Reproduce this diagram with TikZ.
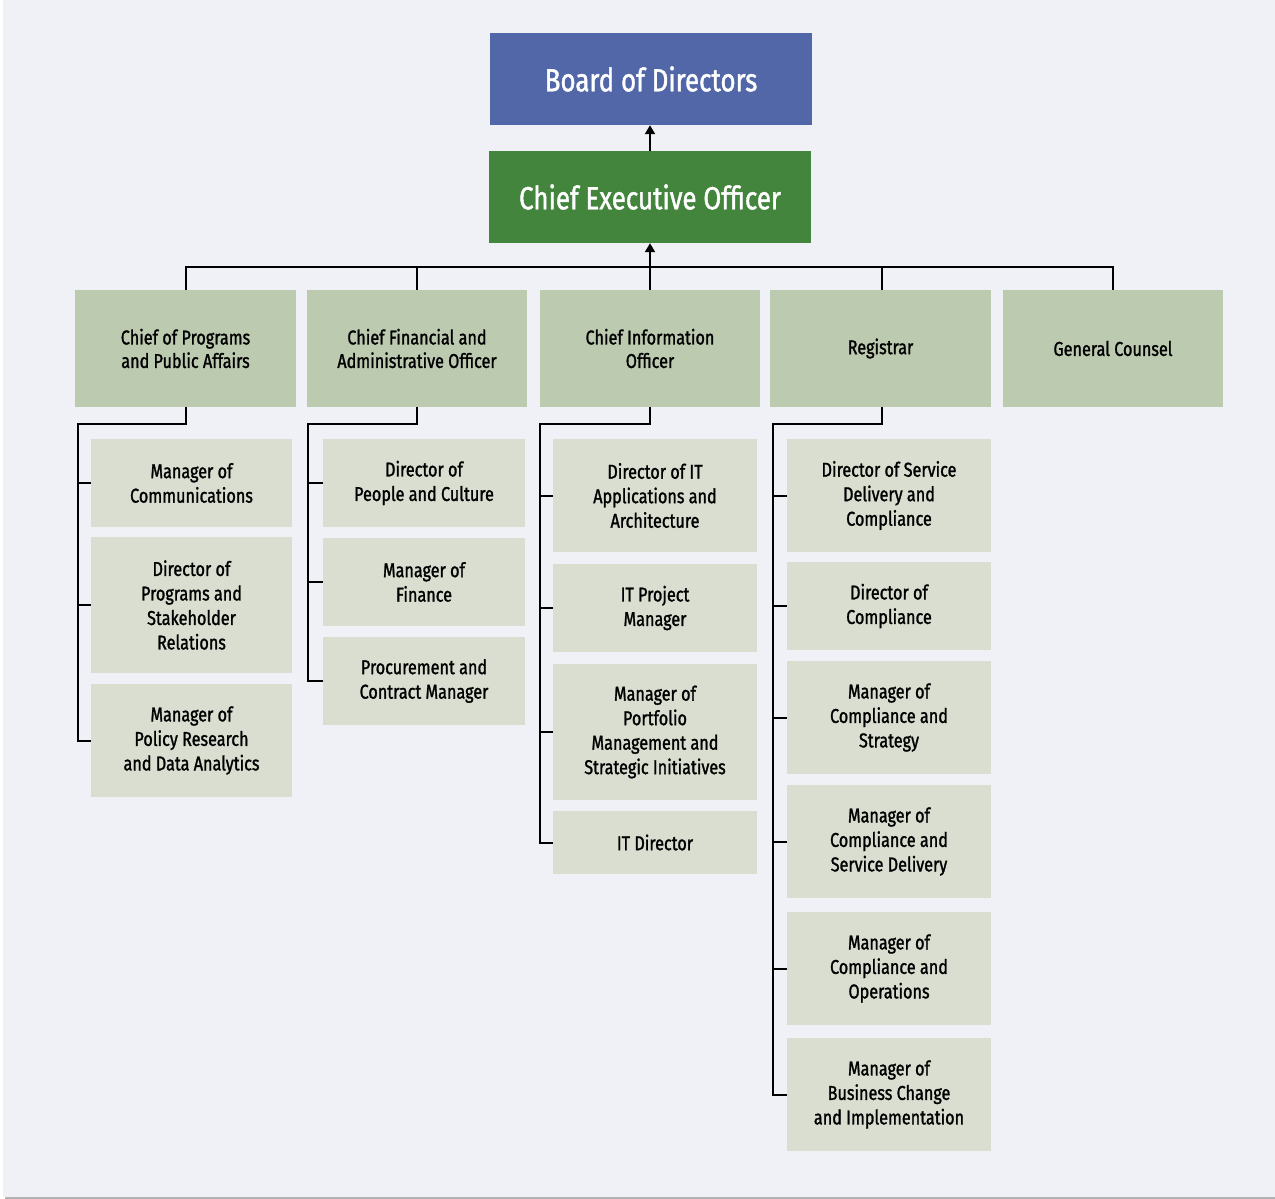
\documentclass[tikz,border=0pt]{standalone}
\usepackage{fontspec}
\setmainfont{Fira Sans}[FakeStretch=0.81, FakeBold=1.3]
\usetikzlibrary{arrows.meta}
\definecolor{bgc}{HTML}{F0F1F6}
\definecolor{boardc}{HTML}{5267A8}
\definecolor{ceoc}{HTML}{43853D}
\definecolor{lvone}{HTML}{BCCAB0}
\definecolor{lvtwo}{HTML}{D9DED0}
\tikzset{
  topbox/.style={fill=#1, text=white, minimum width=322pt, minimum height=92pt, inner sep=0pt,
    font=\fontsize{32}{38}\selectfont},
  onebox/.style={fill=lvone, minimum width=221pt, minimum height=117pt, inner sep=0pt, align=center,
    font=\fontsize{20}{23.5}\selectfont},
  twobox/.style={fill=lvtwo, inner sep=0pt, align=center, font=\fontsize{20}{24.5}\selectfont},
  link/.style={draw=black, line width=2pt},
  uparrow/.style={link, -{Triangle[length=9pt,width=10pt]}}
}
\begin{document}
\begin{tikzpicture}[x=1pt, y=-1pt]
\useasboundingbox (0,0) rectangle (1275,1199);
\fill[white] (0,0) rectangle (1275,1199);
\fill[bgc] (5,0) rectangle (1275,1197);
\fill[black!30] (5,1197) rectangle (1275,1199);
\fill[black!6] (3,0) rectangle (5,1197);

% top
\node[topbox=boardc] (board) at (651,79) {Board of Directors};
\node[topbox=ceoc] (ceo) at (650,197) {Chief Executive Officer};

% level 1
\node[onebox] (a1) at (185.5,348.5) {Chief of Programs\\and Public Affairs};
\node[onebox, minimum width=220pt] (b1) at (417,348.5) {Chief Financial and\\Administrative Officer};
\node[onebox, minimum width=220pt] (c1) at (650,348.5) {Chief Information\\Officer};
\node[onebox] (d1) at (880.5,348.5) {Registrar};
\node[onebox, minimum width=220pt] (e1) at (1113,348.5) {General Counsel};

% level 2 column A
\node[twobox, minimum width=201pt, minimum height=88pt] (a21) at (191.5,483) {Manager of\\Communications};
\node[twobox, minimum width=201pt, minimum height=136pt] (a22) at (191.5,605) {Director of\\Programs and\\Stakeholder\\Relations};
\node[twobox, minimum width=201pt, minimum height=113pt] (a23) at (191.5,740.5) {Manager of\\Policy Research\\and Data Analytics};

% column B
\node[twobox, minimum width=202pt, minimum height=88pt] (b21) at (424,483) {Director of\\People and Culture};
\node[twobox, minimum width=202pt, minimum height=88pt] (b22) at (424,582) {Manager of\\Finance};
\node[twobox, minimum width=202pt, minimum height=88pt] (b23) at (424,681) {Procurement and\\Contract Manager};

% column C
\node[twobox, minimum width=204pt, minimum height=113pt] (c21) at (655,495.5) {Director of IT\\Applications and\\Architecture};
\node[twobox, minimum width=204pt, minimum height=88pt] (c22) at (655,608) {IT Project\\Manager};
\node[twobox, minimum width=204pt, minimum height=136pt] (c23) at (655,732) {Manager of\\Portfolio\\Management and\\Strategic Initiatives};
\node[twobox, minimum width=204pt, minimum height=63pt] (c24) at (655,842.5) {IT Director};

% column D
\node[twobox, minimum width=204pt, minimum height=113pt] (d21) at (889,495.5) {Director of Service\\Delivery and\\Compliance};
\node[twobox, minimum width=204pt, minimum height=88pt] (d22) at (889,606) {Director of\\Compliance};
\node[twobox, minimum width=204pt, minimum height=113pt] (d23) at (889,717.5) {Manager of\\Compliance and\\Strategy};
\node[twobox, minimum width=204pt, minimum height=113pt] (d24) at (889,841.5) {Manager of\\Compliance and\\Service Delivery};
\node[twobox, minimum width=204pt, minimum height=113pt] (d25) at (889,968.5) {Manager of\\Compliance and\\Operations};
\node[twobox, minimum width=204pt, minimum height=113pt] (d26) at (889,1094.5) {Manager of\\Business Change\\and Implementation};

% connectors top
\draw[uparrow] (ceo.north) -- (ceo.north |- board.south);
\coordinate (bus) at (650,267);
\draw[link] (a1.north) -- (a1.north |- bus) -- (e1.north |- bus) -- (e1.north);
\draw[link] (b1.north) -- (b1.north |- bus);
\draw[link] (d1.north) ++(1.5,0) coordinate (d1top) -- (d1top |- bus);
\draw[uparrow] (c1.north) -- (ceo.south);

% column connectors
\coordinate (aL) at (78,424);
\coordinate (bL) at (308,424);
\coordinate (cL) at (540,424);
\coordinate (dL) at (773,424);
\draw[link] (a1.south) |- (aL) |- (a23.west);
\draw[link] (a21.west) -- (a21.west -| aL);
\draw[link] (a22.west) -- (a22.west -| aL);

\draw[link] (b1.south) |- (bL) |- (b23.west);
\draw[link] (b21.west) -- (b21.west -| bL);
\draw[link] (b22.west) -- (b22.west -| bL);

\draw[link] (c1.south) |- (cL) |- (c24.west);
\draw[link] (c21.west) -- (c21.west -| cL);
\draw[link] (c22.west) -- (c22.west -| cL);
\draw[link] (c23.west) -- (c23.west -| cL);

\draw[link] (d1.south) ++(1.5,0) coordinate (d1bot) |- (dL) |- (d26.west);
\draw[link] (d21.west) -- (d21.west -| dL);
\draw[link] (d22.west) -- (d22.west -| dL);
\draw[link] (d23.west) -- (d23.west -| dL);
\draw[link] (d24.west) -- (d24.west -| dL);
\draw[link] (d25.west) -- (d25.west -| dL);
\end{tikzpicture}
\end{document}
